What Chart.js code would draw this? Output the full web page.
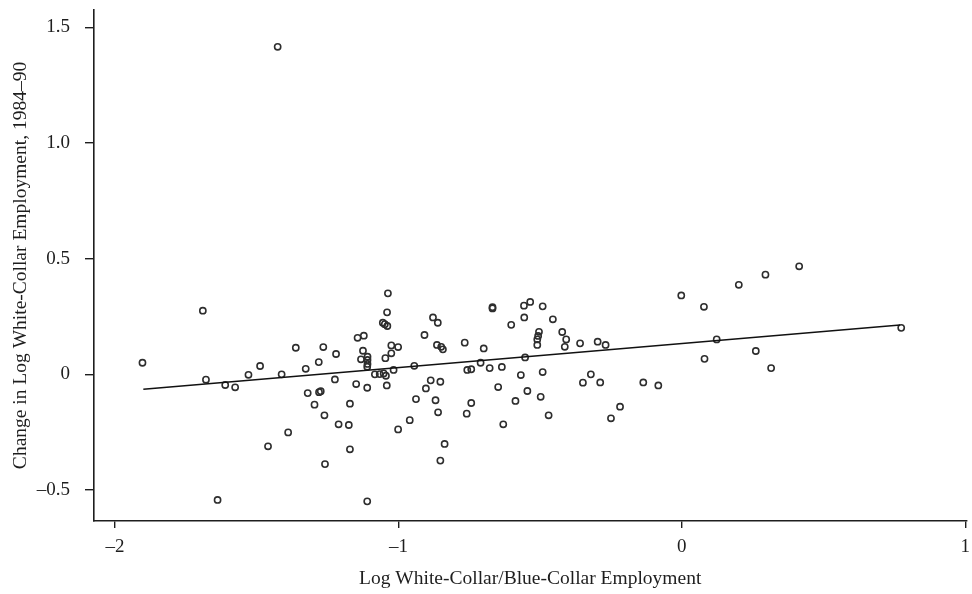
<!DOCTYPE html>
<html>
<head>
<meta charset="utf-8">
<script src="https://cdn.jsdelivr.net/npm/chart.js@4.4.1/dist/chart.umd.min.js"></script>
<style>
  html, body { margin: 0; padding: 0; background: #ffffff; }
  #wrap { width: 972px; height: 594px; }
</style>
</head>
<body>
<div id="wrap"><canvas id="chart" width="972" height="594"></canvas></div>
<script>
// Industries: log white-collar / blue-collar employment (x) vs change in log white-collar employment 1984-90 (y)
const industryX = [
  -1.690, -1.903, -1.362, -1.488, -1.679, -1.611, -1.576, -1.529, -1.412, -1.327,
  -1.320, -1.389, -1.460, -1.638, -1.426,
  -1.037, -1.040, -1.055, -1.048, -1.039, -0.878, -0.861, -0.908, -1.144, -1.122,
  -0.766, -0.864, -0.849, -0.843, -1.265, -1.220, -1.025, -1.001, -1.125, -1.109,
  -1.109, -1.109, -1.132, -1.046, -1.025, -1.281, -1.110, -1.083, -1.066, -1.052,
  -1.044, -1.017, -0.944, -0.757, -0.743, -1.224, -1.149, -1.110, -1.041, -0.886,
  -0.852, -0.903, -1.280, -1.274, -1.296, -1.171, -0.938, -0.869, -0.743, -1.261,
  -0.860, -0.759, -1.211, -1.175, -0.960, -1.001, -1.171, -0.837, -1.259, -0.852,
  -1.110,
  -0.002, -0.668, -0.557, -0.535, -0.491, -0.556, -0.455, -0.602, -0.504, -0.507,
  -0.510, -0.422, -0.408, -0.510, -0.413, -0.359, -0.297, -0.269, -0.699, -0.710,
  -0.553, -0.678, -0.635, -0.568, -0.491, -0.321, -0.349, -0.288, -0.136, -0.083,
  -0.648, -0.545, -0.498, -0.587, -0.470, -0.218, -0.250, -0.630,
  0.078, 0.201, 0.295, 0.414, 0.123, 0.080, 0.261, 0.315, 0.774, -0.668
];
const industryY = [
  0.275, 0.050, 0.115, 0.036, -0.023, -0.046, -0.056, -0.002, 0.000, 0.024,
  -0.081, -0.251, -0.311, -0.543, 1.416,
  0.350, 0.268, 0.223, 0.217, 0.209, 0.246, 0.223, 0.170, 0.158, 0.167,
  0.137, 0.127, 0.119, 0.108, 0.118, 0.088, 0.125, 0.118, 0.102, 0.076,
  0.062, 0.045, 0.065, 0.070, 0.091, 0.053, 0.033, 0.000, 0.001, 0.004,
  -0.006, 0.019, 0.037, 0.019, 0.022, -0.022, -0.042, -0.058, -0.048, -0.026,
  -0.032, -0.061, -0.077, -0.073, -0.131, -0.127, -0.107, -0.112, -0.124, -0.177,
  -0.164, -0.170, -0.216, -0.219, -0.198, -0.238, -0.324, -0.301, -0.388, -0.373,
  -0.549,
  0.341, 0.285, 0.297, 0.313, 0.294, 0.246, 0.238, 0.214, 0.184, 0.166,
  0.151, 0.183, 0.151, 0.127, 0.119, 0.134, 0.141, 0.127, 0.112, 0.050,
  0.073, 0.027, 0.032, -0.003, 0.010, 0.000, -0.036, -0.035, -0.035, -0.048,
  -0.055, -0.072, -0.097, -0.115, -0.177, -0.140, -0.190, -0.216,
  0.292, 0.387, 0.431, 0.467, 0.151, 0.067, 0.101, 0.027, 0.201, 0.290
];

// Fitted regression line endpoints
const fitX = [-1.90, 0.77];
const fitY = [-0.064, 0.213];

// Axis ticks
const xTickValues = [-2, -1, 0, 1];
const xTickLabels = ['\u20132', '\u20131', '0', '1'];
const yTickValues = [-0.5, 0, 0.5, 1, 1.5];
const yTickLabels = ['\u20130.5', '0', '0.5', '1.0', '1.5'];

const ink = '#1e1e1e';
const serif = '"Liberation Serif", "DejaVu Serif", serif';

const points = industryX.map((x, i) => ({ x: x, y: industryY[i] }));
const fitLine = fitX.map((x, i) => ({ x: x, y: fitY[i] }));

function fixedTicks(values) {
  return function (scale) {
    scale.ticks = values.map(v => ({ value: v }));
  };
}
function labelFor(values, labels) {
  return function (value) {
    const k = values.findIndex(v => Math.abs(v - value) < 1e-9);
    return k >= 0 ? labels[k] : '';
  };
}

new Chart(document.getElementById('chart'), {
  type: 'scatter',
  data: {
    datasets: [
      {
        label: 'Industries',
        data: points,
        showLine: false,
        pointStyle: 'circle',
        pointRadius: 3.1,
        pointBorderWidth: 1.6,
        pointBackgroundColor: 'rgba(255,255,255,0)',
        pointBorderColor: '#2e2e2e',
        order: 2
      },
      {
        label: 'Fit',
        type: 'line',
        data: fitLine,
        showLine: true,
        pointRadius: 0,
        borderColor: '#111111',
        borderWidth: 1.5,
        fill: false,
        order: 1
      }
    ]
  },
  options: {
    responsive: false,
    animation: false,
    devicePixelRatio: 1,
    layout: { padding: { top: 10, right: 2, left: 0, bottom: 0 } },
    plugins: {
      legend: { display: false },
      tooltip: { enabled: false }
    },
    scales: {
      x: {
        type: 'linear',
        min: -2.074,
        max: 1.004,
        afterBuildTicks: fixedTicks(xTickValues),
        afterFit: function (scale) {
          scale.height = 73;
          scale.paddingLeft = 0;
          scale.paddingRight = 0;
        },
        border: { display: true, color: ink, width: 1.6 },
        grid: { drawOnChartArea: false, drawTicks: true, tickLength: 7, color: ink, lineWidth: 1.4 },
        ticks: {
          color: ink,
          font: { family: serif, size: 19 },
          padding: 8,
          maxRotation: 0,
          autoSkip: false,
          callback: labelFor(xTickValues, xTickLabels)
        },
        title: {
          display: true,
          text: 'Log White-Collar/Blue-Collar Employment',
          color: ink,
          font: { family: serif, size: 19.5 },
          padding: { top: 0, bottom: 3 }
        }
      },
      y: {
        type: 'linear',
        min: -0.634,
        max: 1.575,
        afterBuildTicks: fixedTicks(yTickValues),
        afterFit: function (scale) {
          scale.width = 94;
          scale.paddingTop = 0;
          scale.paddingBottom = 0;
        },
        border: { display: true, color: ink, width: 1.6 },
        grid: { drawOnChartArea: false, drawTicks: true, tickLength: 9, color: ink, lineWidth: 1.4 },
        ticks: {
          color: ink,
          font: { family: serif, size: 19 },
          padding: 15,
          autoSkip: false,
          callback: labelFor(yTickValues, yTickLabels)
        },
        title: {
          display: true,
          text: 'Change in Log White-Collar Employment, 1984\u201390',
          color: ink,
          font: { family: serif, size: 19.5 },
          padding: { top: 9, bottom: 0 }
        }
      }
    }
  }
});
</script>
</body>
</html>
